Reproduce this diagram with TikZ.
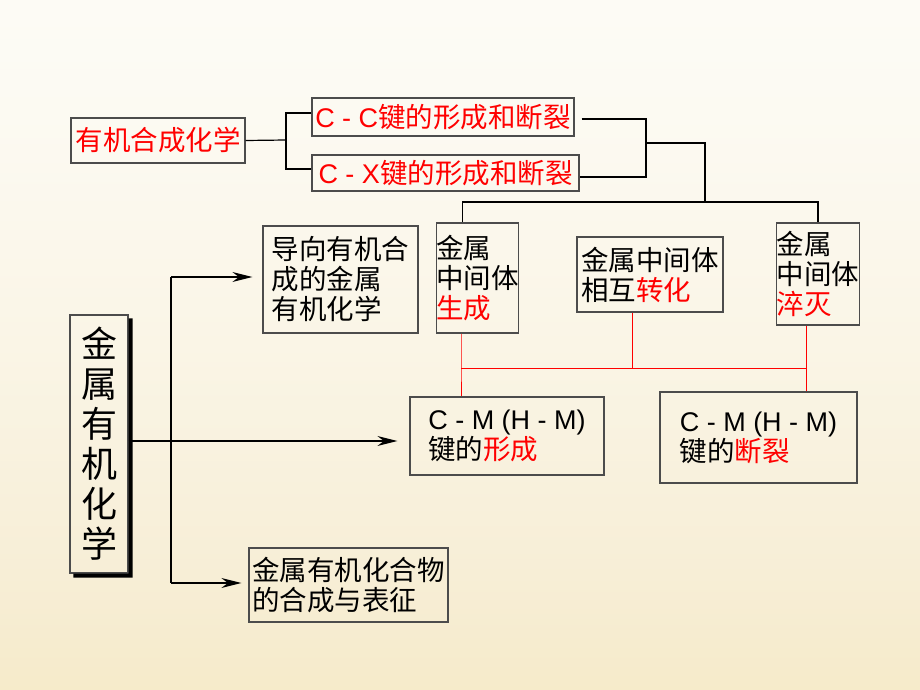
\documentclass[tikz,border=0pt]{standalone}
\usepackage{fontspec}
\newfontfamily\cjk{Noto Sans CJK SC}
\newfontfamily\latfont{Liberation Sans}
\newcommand\lsans[1]{{\latfont\fontsize{27}{30}\selectfont #1}}
\usetikzlibrary{arrows.meta}
\definecolor{bgA}{HTML}{F2E2A6}
\definecolor{bgB}{HTML}{F4E7BE}
\definecolor{bgC}{HTML}{F7EED6}
\definecolor{bgD}{HTML}{FAF5E6}
\definecolor{bgE}{HTML}{FCFAF2}
\pgfdeclareverticalshading{bgshade}{100bp}{color(0bp)=(bgA); color(16.7bp)=(bgB); color(33.3bp)=(bgC); color(50bp)=(bgD); color(66.7bp)=(bgE); color(100bp)=(white)}

\begin{document}
\begin{tikzpicture}[x=1pt,y=-1pt,
	box/.style={draw=black!70,line width=1.2pt,inner sep=0pt,align=left,
		font=\cjk\fontsize{27.5}{30}\selectfont},
	conn/.style={line width=1.2pt},
	redline/.style={red,line width=1pt},
	arr/.style={line width=1.2pt,-{Stealth[length=20pt,width=10pt]}}]
\shade[shading=bgshade] (0,0) rectangle (920,690);

\node[box,text=red,minimum width=174pt,minimum height=45pt] (yj) at (158,140.5) {有机合成化学};
\node[box,text=red,minimum width=262pt,minimum height=38pt] (cc) at (443,117) {\lsans{C - C}键的形成和断裂};
\node[box,text=red,minimum width=267pt,minimum height=36pt] (cx) at (445.5,173) {\lsans{C - X}键的形成和断裂};

\node[box,minimum width=79pt,minimum height=110pt] (sc) at (477.5,278) {金属\\中间体\\\textcolor{red}{生成}};
\node[box,minimum width=146pt,minimum height=75pt] (zh) at (650,274.5) {金属中间体\\相互\textcolor{red}{转化}};
\node[box,minimum width=78pt,minimum height=102pt] (cm) at (818,274) {金属\\中间体\\\textcolor{red}{淬灭}};
\node[box,minimum width=155pt,minimum height=107pt] (dx) at (340.5,279.5) {导向有机合\\成的金属\\有机化学};
\node[box,minimum width=194pt,minimum height=78pt] (form) at (507,436) {\lsans{C - M (H - M)}\\键的\textcolor{red}{形成}};
\node[box,minimum width=197pt,minimum height=91pt] (brk) at (758.5,437.5) {\lsans{C - M (H - M)}\\键的\textcolor{red}{断裂}};
\node[box,minimum width=199pt,minimum height=74pt] (hc) at (348.5,585) {金属有机化合物\\的合成与表征};
\node[box,align=center,minimum width=58pt,minimum height=258pt,
	font=\cjk\fontsize{36}{40}\selectfont] (main) at (99,444) {金\\属\\有\\机\\化\\学};
\fill ([shift={(0,4)}]main.north east) -- ([shift={(4,4)}]main.north east)
	-- ([shift={(4,4)}]main.south east) -- ([shift={(4,4)}]main.south west)
	-- ([shift={(4,0)}]main.south west) -- (main.south east) -- cycle;

% top brackets
\coordinate (b1) at (286,140);
\coordinate (b2) at (646,143);
\coordinate (b3) at (705,202);
\draw[conn] (yj.east) -- (b1);
\draw[conn] ([yshift=4pt]cc.west) -| (b1) |- ([yshift=4pt]cx.west);
\draw[conn] ([xshift=7pt,yshift=-2pt]cc.east) -| (b2) |- ([yshift=-4pt]cx.east);
\draw[conn] (b2) -| (b3);
\draw[conn] ([xshift=-15pt]sc.north) |- (b3) -| (cm.north);

% red links
\coordinate (r1) at (461,368);
\coordinate (r2) at (806,368);
\draw[redline] ([xshift=-16.5pt]sc.south) -- (r1) -- (r1 |- form.north);
\draw[redline] (r1) -- (r2);
\draw[redline] ([xshift=-18pt]zh.south) -- ([xshift=-18pt]zh.south |- r1);
\draw[redline] ([xshift=-12pt]cm.south) -- (r2) -- (r2 |- brk.north);

% left arrows
\coordinate (tA) at (171,277);
\coordinate (tB) at (171,441);
\coordinate (tC) at (171,583);
\draw[conn] ([yshift=3pt]main.east) -- (tB);
\draw[conn] (tA) -- (tC);
\draw[arr] (tA) -- ([xshift=-10pt]tA -| dx.west);
\draw[arr] (tB) -- ([xshift=-12pt]tB -| form.west);
\draw[arr] (tC) -- ([xshift=-7pt]tC -| hc.west);
\end{tikzpicture}
\end{document}
